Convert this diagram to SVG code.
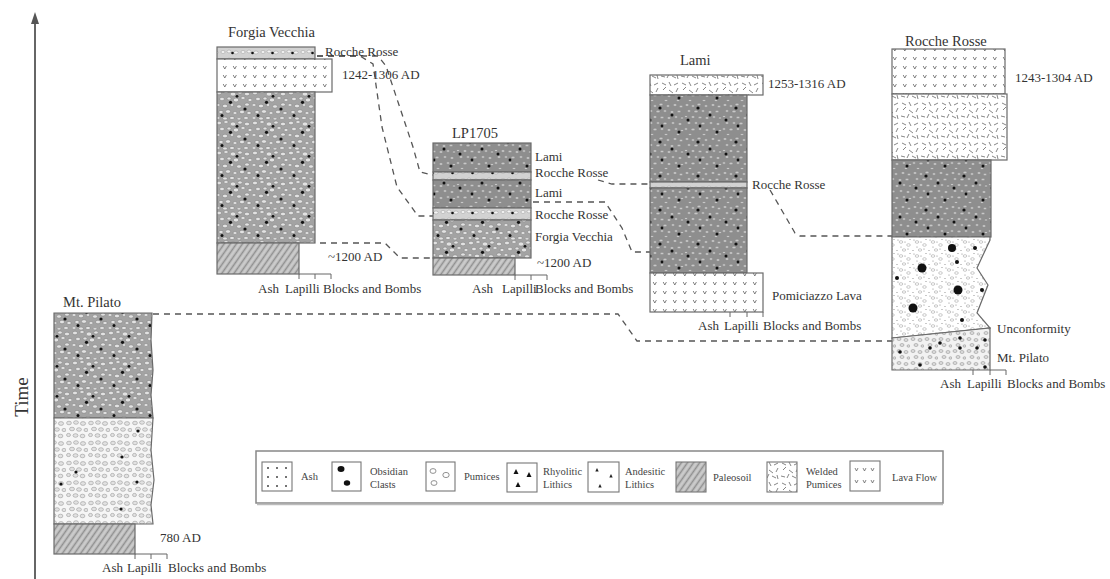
<svg xmlns="http://www.w3.org/2000/svg" width="1110" height="579" viewBox="0 0 1110 579" font-family="'Liberation Serif','Times New Roman',serif">
<style>
.t{font-family:"Liberation Serif","Times New Roman",serif;fill:#333}
.lbl{font-size:13px}
.ttl{font-size:14.5px}
.leg{font-size:10.5px;fill:#444}
.box{stroke:#6a6a6a;stroke-width:1.2}
.scale{fill:none;stroke:#666;stroke-width:1}
.corr{fill:none;stroke:#555;stroke-width:1.3;stroke-dasharray:6 5}
.ic{stroke:#777;stroke-width:1.1}
</style>
<defs>
<pattern id="pob" width="36" height="30" patternUnits="userSpaceOnUse">
<rect width="36" height="30" fill="#a3a3a3"/>
<g fill="#e2e2e2" stroke="#7c7c7c" stroke-width=".5">
<ellipse cx="3" cy="3" rx="2.5" ry="1.8"/><ellipse cx="10" cy="2" rx="2.2" ry="1.5"/><ellipse cx="17" cy="4" rx="2.8" ry="2"/><ellipse cx="24" cy="2.5" rx="2.2" ry="1.6"/><ellipse cx="31" cy="4" rx="2.6" ry="1.8"/>
<ellipse cx="6" cy="9" rx="2.4" ry="1.7"/><ellipse cx="13" cy="8.5" rx="2" ry="1.5"/><ellipse cx="20" cy="10" rx="2.7" ry="1.9"/><ellipse cx="27" cy="8" rx="2.1" ry="1.5"/><ellipse cx="34" cy="10" rx="2" ry="1.6"/>
<ellipse cx="2" cy="15" rx="2" ry="1.5"/><ellipse cx="9" cy="16" rx="2.6" ry="1.8"/><ellipse cx="16" cy="15" rx="1.8" ry="1.4"/><ellipse cx="23" cy="16.5" rx="2.4" ry="1.7"/><ellipse cx="31" cy="14.5" rx="2.3" ry="1.6"/>
<ellipse cx="5" cy="22" rx="2.2" ry="1.6"/><ellipse cx="12" cy="21.5" rx="2.6" ry="1.8"/><ellipse cx="19" cy="23" rx="2" ry="1.5"/><ellipse cx="26" cy="22" rx="2.5" ry="1.8"/><ellipse cx="33" cy="23" rx="2.2" ry="1.6"/>
<ellipse cx="2" cy="28" rx="2" ry="1.4"/><ellipse cx="9" cy="28.5" rx="2.3" ry="1.5"/><ellipse cx="16" cy="28" rx="2.4" ry="1.6"/><ellipse cx="23" cy="28.8" rx="2" ry="1.2"/><ellipse cx="30" cy="28" rx="2.4" ry="1.5"/>
</g>
<g fill="#111"><circle cx="14.5" cy="12.3" r="1.6"/><circle cx="29" cy="19" r="1.6"/><circle cx="6" cy="25.5" r="1.5"/><circle cx="21" cy="6.3" r="1.4"/></g>
</pattern>
<pattern id="lami" width="38" height="34" patternUnits="userSpaceOnUse">
<rect width="38" height="34" fill="#8e8e8e"/>
<g fill="#c8c8c8" stroke="#777" stroke-width=".4">
<ellipse cx="3" cy="3" rx="1.8" ry="1.3"/><ellipse cx="9" cy="4" rx="1.6" ry="1.2"/><ellipse cx="15" cy="2.5" rx="1.8" ry="1.3"/><ellipse cx="22" cy="4" rx="1.7" ry="1.2"/><ellipse cx="29" cy="3" rx="1.8" ry="1.3"/><ellipse cx="35" cy="4.5" rx="1.6" ry="1.2"/>
<ellipse cx="5" cy="9" rx="1.7" ry="1.2"/><ellipse cx="12" cy="9.5" rx="1.9" ry="1.3"/><ellipse cx="19" cy="9" rx="1.6" ry="1.2"/><ellipse cx="26" cy="10" rx="1.8" ry="1.3"/><ellipse cx="33" cy="9.5" rx="1.7" ry="1.2"/>
<ellipse cx="2" cy="14.5" rx="1.5" ry="1.1"/><ellipse cx="9" cy="15" rx="1.8" ry="1.3"/><ellipse cx="16" cy="15.5" rx="1.7" ry="1.2"/><ellipse cx="23" cy="16" rx="1.8" ry="1.3"/><ellipse cx="30" cy="15" rx="1.6" ry="1.2"/><ellipse cx="36" cy="16" rx="1.5" ry="1.1"/>
<ellipse cx="5" cy="21" rx="1.8" ry="1.3"/><ellipse cx="12" cy="21" rx="1.6" ry="1.2"/><ellipse cx="19" cy="21.5" rx="1.8" ry="1.3"/><ellipse cx="27" cy="21" rx="1.7" ry="1.2"/><ellipse cx="34" cy="22" rx="1.8" ry="1.3"/>
<ellipse cx="2" cy="27" rx="1.6" ry="1.2"/><ellipse cx="9" cy="27.5" rx="1.8" ry="1.3"/><ellipse cx="16" cy="27" rx="1.7" ry="1.2"/><ellipse cx="23" cy="28" rx="1.8" ry="1.3"/><ellipse cx="30" cy="27" rx="1.6" ry="1.2"/><ellipse cx="36" cy="28.5" rx="1.5" ry="1.1"/>
<ellipse cx="6" cy="32.5" rx="1.6" ry="1.1"/><ellipse cx="20" cy="32.5" rx="1.7" ry="1.1"/><ellipse cx="32" cy="32.5" rx="1.6" ry="1.1"/>
</g>
<g fill="#111"><circle cx="14" cy="6" r="1.6"/><circle cx="4" cy="18" r="1.5"/><circle cx="26" cy="13" r="1.5"/><circle cx="33" cy="30" r="1.5"/><circle cx="16" cy="24" r="1.4"/></g>
</pattern>
<pattern id="band" width="20" height="8" patternUnits="userSpaceOnUse">
<rect width="20" height="8" fill="#d2d2d2"/>
<g fill="#f4f4f4" stroke="#888" stroke-width=".4">
<ellipse cx="3" cy="4" rx="2" ry="1.5"/><ellipse cx="9" cy="3.5" rx="2" ry="1.4"/><ellipse cx="16" cy="4.5" rx="2.2" ry="1.5"/>
</g>
<circle cx="12.5" cy="5" r="1.3" fill="#111"/>
</pattern>
<pattern id="pum" width="22" height="20" patternUnits="userSpaceOnUse">
<rect width="22" height="20" fill="#f6f6f6"/>
<g fill="#e2e2e2" stroke="#8a8a8a" stroke-width=".5">
<ellipse cx="3" cy="3" rx="2.4" ry="1.8"/><ellipse cx="10" cy="2.5" rx="2.4" ry="1.8"/><ellipse cx="17" cy="3.5" rx="2.6" ry="1.9"/>
<ellipse cx="6" cy="9" rx="2.5" ry="1.8"/><ellipse cx="13" cy="9.5" rx="2.4" ry="1.8"/><ellipse cx="20" cy="10" rx="2" ry="1.6"/>
<ellipse cx="2.5" cy="15" rx="2" ry="1.6"/><ellipse cx="9.5" cy="15.5" rx="2.5" ry="1.8"/><ellipse cx="16.5" cy="16" rx="2.4" ry="1.8"/>
</g>
</pattern>
<pattern id="lava" width="10" height="9" patternUnits="userSpaceOnUse">
<rect width="10" height="9" fill="#fff"/>
<path d="M3.2,3 l1.6,3 l1.6,-3" fill="none" stroke="#666" stroke-width=".8"/>
</pattern>
<pattern id="welded" width="20" height="20" patternUnits="userSpaceOnUse">
<rect width="20" height="20" fill="#fff"/>
<path d="M2,3 l4,2 M9,2 l2,4 M14,5 l4,-2 M18,8 l-2,4 M3,10 l3,-3 M9,10 l4,3 M1,16 l4,1 M7,18 l2,-4 M12,16 l4,2 M17,15 l1,4" fill="none" stroke="#666" stroke-width=".8"/>
</pattern>
<pattern id="paleo" width="5" height="5" patternUnits="userSpaceOnUse" patternTransform="rotate(-55)">
<rect width="5" height="5" fill="#b9b9b9"/>
<line x1="0" y1="1" x2="5" y2="1" stroke="#e6e6e6" stroke-width=".8"/>
<line x1="0" y1="3.5" x2="5" y2="3.5" stroke="#8a8a8a" stroke-width=".9"/>
</pattern>
<pattern id="ashob" width="16" height="14" patternUnits="userSpaceOnUse">
<rect width="16" height="14" fill="#fff"/>
<g fill="#888"><circle cx="2" cy="2" r=".6"/><circle cx="9" cy="4" r=".6"/><circle cx="14" cy="1.5" r=".6"/><circle cx="5" cy="9" r=".6"/><circle cx="12" cy="11" r=".6"/><circle cx="1" cy="12.5" r=".6"/></g>
<g fill="none" stroke="#a5a5a5" stroke-width=".6"><ellipse cx="5" cy="4" rx="1.8" ry="1.3"/><ellipse cx="12.5" cy="7" rx="1.8" ry="1.3"/><ellipse cx="8" cy="12" rx="1.7" ry="1.2"/></g>
</pattern>
<pattern id="ashob2" width="14" height="12" patternUnits="userSpaceOnUse">
<rect width="14" height="12" fill="#f2f2f2"/>
<g fill="#dcdcdc" stroke="#888" stroke-width=".5"><ellipse cx="3" cy="3" rx="2" ry="1.5"/><ellipse cx="10" cy="4" rx="2" ry="1.5"/><ellipse cx="6" cy="9" rx="2" ry="1.5"/><ellipse cx="12.5" cy="10" rx="1.5" ry="1.2"/></g>
</pattern>
</defs>

<g id="time-axis">
<line x1="35" y1="22" x2="35" y2="579" stroke="#666" stroke-width="2"/>
<polygon points="35,12 31,24 39,24" fill="#555"/>
<text class="t" font-size="19" transform="translate(28,397) rotate(-90)" text-anchor="middle">Time</text>
</g>

<g id="correlations">
<path class="corr" d="M317,56 H360 L373,64 L382,127 L397,187 L418,216 H433"/>
<path class="corr" d="M317,56 H378 L386,66 L413,147 L420,172 L433,175"/>
<path class="corr" d="M320,243 H385 L400,258 H433"/>
<path class="corr" d="M598,180 L612,184 H650"/>
<path class="corr" d="M533,202 H605 L622,228 L632,252 H650"/>
<path class="corr" d="M770,190 L795,233 L800,236 H892"/>
<path class="corr" d="M153,314 H618 L637,341 H892"/>
</g>

<g id="col-forgia-vecchia">
<text class="t ttl" x="228" y="37">Forgia Vecchia</text>
<rect class="box" x="217" y="47" width="98" height="12" fill="url(#band)"/>
<rect class="box" x="217" y="59" width="115" height="33" fill="url(#lava)"/>
<rect class="box" x="217" y="92" width="98" height="151" fill="url(#pob)"/>
<rect class="box" x="217" y="243" width="82" height="31" fill="url(#paleo)"/>
<path class="scale" d="M299,274 H331 M299,274 V279 M315,274 V279 M331,274 V279"/>
<text class="t lbl" x="325" y="56">Rocche Rosse</text>
<text class="t lbl" x="342" y="79">1242-1306 AD</text>
<text class="t lbl" x="328" y="261">~1200 AD</text>
<text class="t lbl" x="258" y="293">Ash</text>
<text class="t lbl" x="285" y="293">Lapilli</text>
<text class="t lbl" x="323" y="293">Blocks and Bombs</text>
</g>

<g id="col-lp1705">
<text class="t ttl" x="452" y="138">LP1705</text>
<rect class="box" x="433" y="143" width="98" height="29" fill="url(#lami)"/>
<rect class="box" x="433" y="172" width="98" height="8" fill="url(#band)"/>
<rect class="box" x="433" y="180" width="98" height="28" fill="url(#lami)"/>
<rect class="box" x="433" y="208" width="98" height="12" fill="url(#band)"/>
<rect class="box" x="433" y="220" width="98" height="38" fill="url(#pob)"/>
<rect class="box" x="433" y="258" width="82" height="17" fill="url(#paleo)"/>
<path class="scale" d="M515,275 H547 M515,275 V280 M531,275 V280 M547,275 V280"/>
<text class="t lbl" x="535" y="161">Lami</text>
<text class="t lbl" x="535" y="177">Rocche Rosse</text>
<text class="t lbl" x="535" y="197">Lami</text>
<text class="t lbl" x="535" y="219">Rocche Rosse</text>
<text class="t lbl" x="535" y="241">Forgia Vecchia</text>
<text class="t lbl" x="537" y="267">~1200 AD</text>
<text class="t lbl" x="472" y="293">Ash</text>
<text class="t lbl" x="502" y="293">Lapilli</text>
<text class="t lbl" x="535" y="293">Blocks and Bombs</text>
</g>

<g id="col-lami">
<text class="t ttl" x="680" y="65">Lami</text>
<rect class="box" x="650" y="75" width="113" height="20" fill="url(#welded)"/>
<rect class="box" x="650" y="95" width="97" height="87" fill="url(#lami)"/>
<rect class="box" x="650" y="182" width="97" height="6" fill="url(#band)"/>
<rect class="box" x="650" y="188" width="97" height="85" fill="url(#lami)"/>
<rect class="box" x="650" y="273" width="113" height="39" fill="url(#lava)"/>
<path class="scale" d="M730,312 V317 M747,312 V317 M763,312 V317"/>
<text class="t lbl" x="768" y="88">1253-1316 AD</text>
<text class="t lbl" x="752" y="189">Rocche Rosse</text>
<text class="t lbl" x="772" y="300">Pomiciazzo Lava</text>
<text class="t lbl" x="698" y="330">Ash</text>
<text class="t lbl" x="724" y="330">Lapilli</text>
<text class="t lbl" x="763" y="330">Blocks and Bombs</text>
</g>

<g id="col-rocche-rosse">
<text class="t ttl" x="905" y="46">Rocche Rosse</text>
<rect class="box" x="892" y="49" width="113" height="45" fill="url(#lava)"/>
<rect class="box" x="892" y="94" width="115" height="66" fill="url(#welded)"/>
<rect class="box" x="892" y="160" width="99" height="77" fill="url(#lami)"/>
<polygon class="box" points="892,237 990,237 990,240 977,268 988,285 977,313 990,328 892,338" fill="url(#ashob)"/>
<polygon class="box" points="892,338 990,328 990,370 892,370" fill="url(#ashob2)"/>
<g fill="#111">
<circle cx="952" cy="248" r="4"/><circle cx="922" cy="268" r="4.5"/><circle cx="958" cy="290" r="4.5"/><circle cx="913" cy="308" r="4.5"/>
<circle cx="957" cy="262" r="2"/><circle cx="975" cy="248" r="2"/><circle cx="897" cy="278" r="2"/><circle cx="982" cy="290" r="2"/><circle cx="962" cy="320" r="2"/>
<circle cx="960" cy="338" r="1.8"/><circle cx="900" cy="352" r="1.8"/><circle cx="930" cy="348" r="1.8"/><circle cx="940" cy="343" r="1.8"/><circle cx="960" cy="348" r="1.8"/>
<circle cx="920" cy="365" r="1.8"/><circle cx="985" cy="340" r="1.8"/><circle cx="985" cy="367" r="1.8"/><circle cx="977" cy="348" r="1.8"/>
</g>
<path class="scale" d="M973,370 V375 M990,370 H1006 V375 M990,370 V375"/>
<text class="t lbl" x="1015" y="82">1243-1304 AD</text>
<text class="t lbl" x="997" y="333">Unconformity</text>
<text class="t lbl" x="997" y="362">Mt. Pilato</text>
<text class="t lbl" x="940" y="388">Ash</text>
<text class="t lbl" x="967" y="388">Lapilli</text>
<text class="t lbl" x="1007" y="388">Blocks and Bombs</text>
</g>

<g id="col-mt-pilato">
<text class="t ttl" x="63" y="307">Mt. Pilato</text>
<path class="box" d="M54,313 H152 L151,340 L153,370 L151,395 L153,418 H54 Z" fill="url(#pob)"/>
<path class="box" d="M54,418 H153 L151,450 L154,480 L151,505 L153,524 H54 Z" fill="url(#pum)"/>
<g fill="#111"><circle cx="76" cy="472" r="1.6"/><circle cx="61" cy="484" r="1.6"/><circle cx="122" cy="457" r="1.6"/><circle cx="137" cy="482" r="1.6"/><circle cx="121" cy="509" r="1.6"/><circle cx="138" cy="431" r="1.6"/></g>
<rect class="box" x="54" y="524" width="81" height="30" fill="url(#paleo)"/>
<path class="scale" d="M135,554 H167 M135,554 V559 M151,554 V559 M167,554 V559"/>
<text class="t lbl" x="160" y="542">780 AD</text>
<text class="t lbl" x="102" y="572">Ash</text>
<text class="t lbl" x="127" y="572">Lapilli</text>
<text class="t lbl" x="168" y="572">Blocks and Bombs</text>
</g>

<g id="legend">
<rect x="256" y="451" width="687" height="52" fill="#fff" stroke="#888" stroke-width="1.5"/>
<line x1="257" y1="504.5" x2="943" y2="504.5" stroke="#bbb" stroke-width="1.5"/>
<rect class="ic" x="262" y="462" width="30" height="29" fill="#fff"/>
<g fill="#444"><circle cx="268" cy="468" r="1"/><circle cx="277" cy="468" r="1"/><circle cx="286" cy="468" r="1"/><circle cx="268" cy="477" r="1"/><circle cx="277" cy="477" r="1"/><circle cx="286" cy="477" r="1"/><circle cx="268" cy="486" r="1"/><circle cx="277" cy="486" r="1"/><circle cx="286" cy="486" r="1"/></g>
<text class="t leg" x="301" y="480">Ash</text>
<rect class="ic" x="332" y="462" width="29" height="29" fill="#fff"/>
<ellipse cx="341" cy="469" rx="3.5" ry="3" fill="#111"/><ellipse cx="347" cy="483" rx="3.2" ry="2.8" fill="#111"/>
<text class="t leg" x="370" y="475">Obsidian</text><text class="t leg" x="370" y="488">Clasts</text>
<rect class="ic" x="426" y="462" width="29" height="29" fill="#fff"/>
<g fill="none" stroke="#777" stroke-width=".8"><ellipse cx="433" cy="471" rx="3" ry="2.4"/><ellipse cx="446" cy="475" rx="3.2" ry="2.6"/><ellipse cx="434" cy="483" rx="3" ry="2.4"/></g>
<text class="t leg" x="464" y="480">Pumices</text>
<rect class="ic" x="507" y="463" width="30" height="29" fill="#fff"/>
<g fill="#111"><polygon points="516,469 513.5,474 518.5,474"/><polygon points="529,472 526.5,477 531.5,477"/><polygon points="518,482 515.5,487 520.5,487"/></g>
<text class="t leg" x="543" y="475">Rhyolitic</text><text class="t leg" x="543" y="488">Lithics</text>
<rect class="ic" x="588" y="462" width="31" height="30" fill="#fff"/>
<g fill="#222"><polygon points="597,468 595.3,471.5 598.7,471.5"/><polygon points="611,474 609.3,477.5 612.7,477.5"/><polygon points="600,484 598.3,487.5 601.7,487.5"/></g>
<text class="t leg" x="625" y="475">Andesitic</text><text class="t leg" x="625" y="488">Lithics</text>
<rect class="ic" x="676" y="462" width="30" height="30" fill="url(#paleo)"/>
<text class="t leg" x="713" y="481">Paleosoil</text>
<rect class="ic" x="767" y="462" width="30" height="30" fill="url(#welded)"/>
<text class="t leg" x="806" y="475">Welded</text><text class="t leg" x="806" y="488">Pumices</text>
<rect class="ic" x="850" y="461" width="30" height="30" fill="#fff"/>
<path d="M855,468 l1.5,3 l1.5,-3 M863,468 l1.5,3 l1.5,-3 M871,468 l1.5,3 l1.5,-3 M855,480 l1.5,3 l1.5,-3 M863,480 l1.5,3 l1.5,-3 M871,480 l1.5,3 l1.5,-3" fill="none" stroke="#666" stroke-width=".8"/>
<text class="t leg" x="892" y="481">Lava Flow</text>
</g>
</svg>
